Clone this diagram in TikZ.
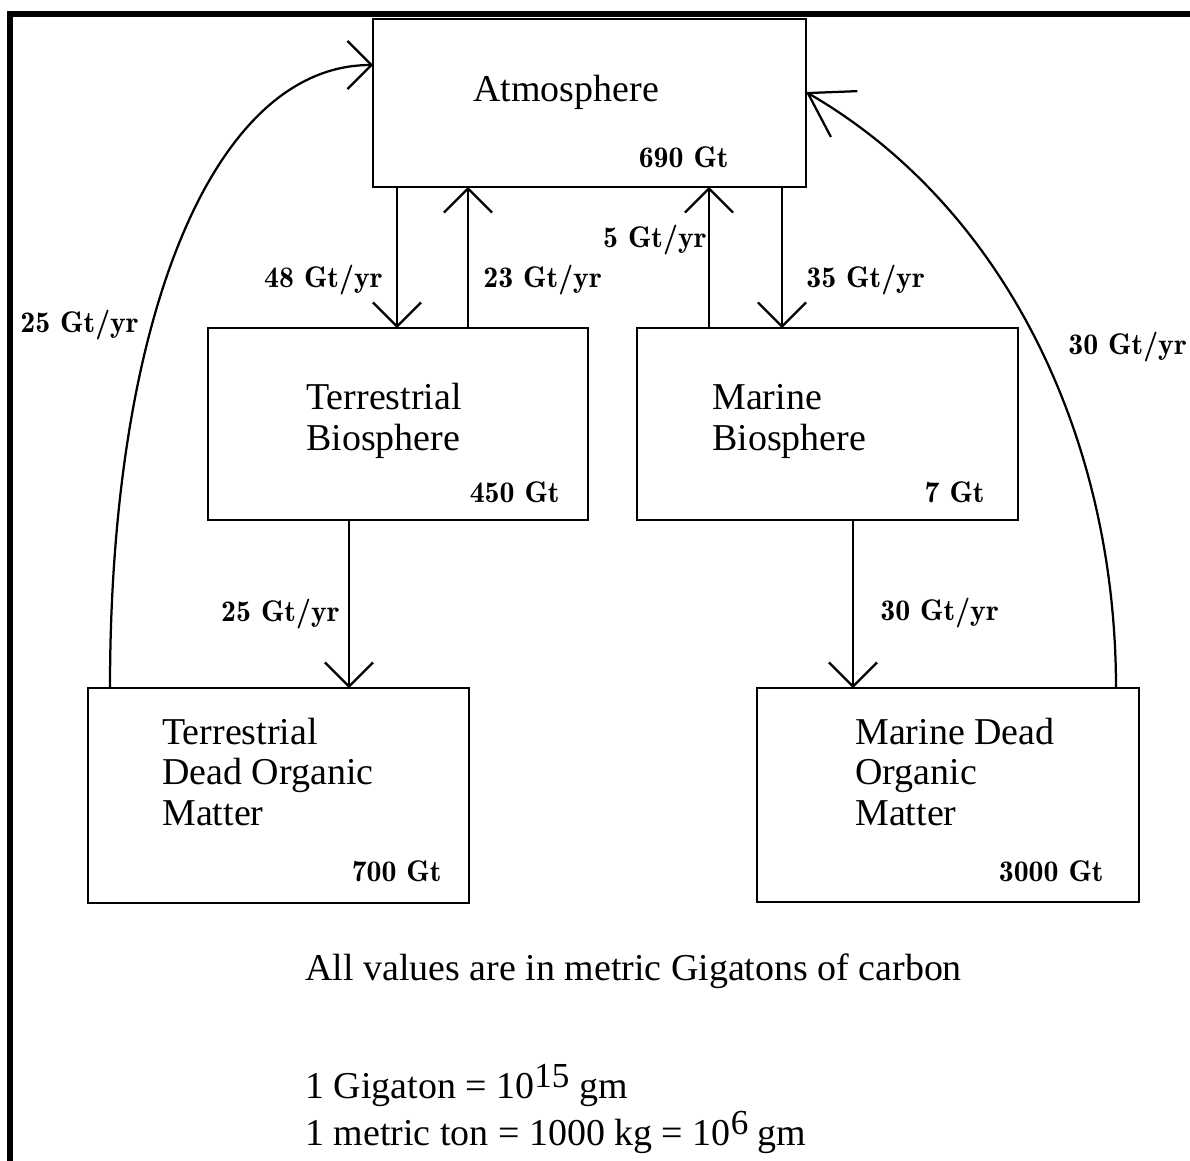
\documentclass[tikz,border=0pt]{standalone}
\usepackage{fontspec}
\setmainfont{Liberation Serif}
\usetikzlibrary{arrows.meta}

\newcommand{\ratefont}{\usefont{TU}{lmr}{b}{n}\fontsize{17}{20}\selectfont}
\newcommand{\supnum}[1]{\raisebox{0.22cm}{\fontsize{20}{20}\selectfont #1}}

\begin{document}
\begin{tikzpicture}[
    x=0.02cm, y=-0.02cm,
    pool/.style={rectangle, draw, line width=0.045cm, inner sep=0pt, outer sep=0pt},
    poolname/.style={anchor=base west, align=left, inner sep=0pt, font=\fontsize{21.6}{22.8}\selectfont},
    amount/.style={anchor=base east, inner sep=0pt, font=\ratefont},
    rate/.style={inner sep=0pt, font=\ratefont},
    flow/.style={-{Straight Barb[length=0.48cm, width=0.96cm]}, line width=0.045cm}
]
\useasboundingbox (0,0) rectangle (1190,1160);

% Frame
\draw[line width=0.12cm] (10,1180) -- (10,13.5) -- (1210,13.5);

% Carbon pools
\node[pool, minimum width=8.66cm, minimum height=3.36cm] (atm) at (589.5,103) {};
\node[pool, minimum width=7.6cm, minimum height=3.84cm] (terr) at (398,424) {};
\node[pool, minimum width=7.62cm, minimum height=3.84cm] (mar) at (827.5,424) {};
\node[pool, minimum width=7.62cm, minimum height=4.3cm] (tdom) at (278.5,795.5) {};
\node[pool, minimum width=7.64cm, minimum height=4.28cm] (mdom) at (948,795) {};

% Pool names (anchored on the last line)
\node[poolname] (atmname) at (473,101) {Atmosphere};
\node[poolname] (terrname) at (306,450) {Terrestrial\\Biosphere};
\node[poolname] (marname) at (712,450) {Marine\\Biosphere};
\node[poolname] (tdomname) at (162,825) {Terrestrial\\Dead Organic\\Matter};
\node[poolname] (mdomname) at (855,825) {Marine Dead\\Organic\\Matter};

% Pool sizes
\node[amount] (atmamt) at (729,167) {690 Gt};
\node[amount] (terramt) at (560,502) {450 Gt};
\node[amount] (maramt) at (985,502) {7 Gt};
\node[amount] (tdomamt) at (442,881) {700 Gt};
\node[amount] (mdomamt) at (1104,881) {3000 Gt};

% Flow positions
\coordinate (f48) at (397,0);
\coordinate (f23) at (468,0);
\coordinate (f5) at (709,0);
\coordinate (f35) at (782,0);
\coordinate (f25) at (349,0);
\coordinate (f30) at (853,0);
\coordinate (cL) at (110,0);
\coordinate (cR) at (1116,0);
\coordinate (tipL) at (373,65);
\coordinate (tipR) at (806,92);

% Fluxes
\draw[flow] (atm.south -| f48) -- (terr.north -| f48);
\draw[flow] (terr.north -| f23) -- (atm.south -| f23);
\draw[flow] (mar.north -| f5) -- (atm.south -| f5);
\draw[flow] (atm.south -| f35) -- (mar.north -| f35);
\draw[flow] (terr.south -| f25) -- (tdom.north -| f25);
\draw[flow] (mar.south -| f30) -- (mdom.north -| f30);
\draw[flow] (tdom.north -| cL) .. controls (110,314) and (215,65) .. (tipL);
\draw[-{Straight Barb[length=0.84cm, width=1.06cm]}, line width=0.045cm]
    (mdom.north -| cR) .. controls (1116,438) and (1005,207) .. (tipR);

% Flux labels
\node[rate, anchor=base east] (r48) at (383,287) {48 Gt/yr};
\node[rate, anchor=base west] (r23) at (483,287) {23 Gt/yr};
\node[rate, anchor=base east] (r5) at (707,247) {5 Gt/yr};
\node[rate, anchor=base west] (r35) at (806,287) {35 Gt/yr};
\node[rate, anchor=base west] (r25l) at (20,332) {25 Gt/yr};
\node[rate, anchor=base west] (r30r) at (1068,354) {30 Gt/yr};
\node[rate, anchor=base east] (r25) at (340,621) {25 Gt/yr};
\node[rate, anchor=base west] (r30) at (880,620) {30 Gt/yr};

% Units note
\node[poolname, font=\fontsize{21.6}{26.7}\selectfont] (note) at (305,1145)
    {All values are in metric Gigatons of carbon\\[1.42cm]
     1 Gigaton = 10\supnum{15} gm\\
     1 metric ton = 1000 kg = 10\supnum{6} gm};

\end{tikzpicture}
\end{document}
